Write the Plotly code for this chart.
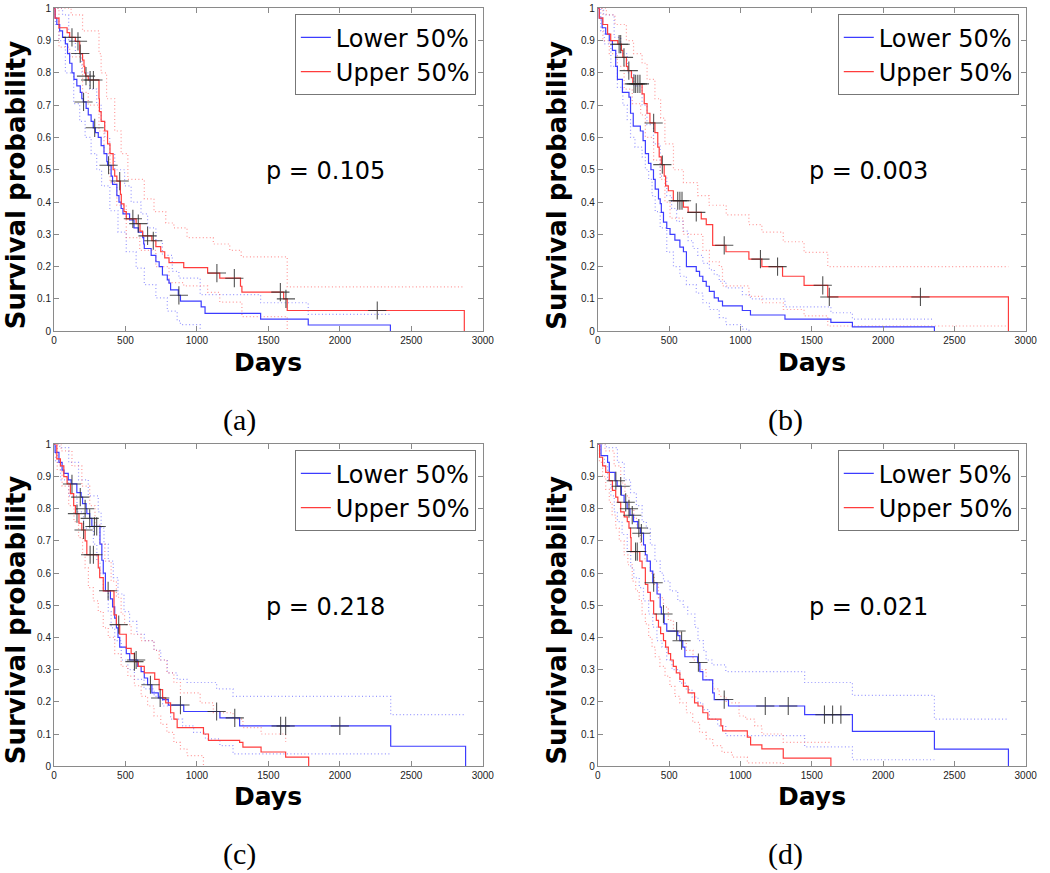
import plotly.graph_objects as go

W, H = 1050, 873

# ---------------- tick labels / texts ----------------
x_tick_vals = [0, 500, 1000, 1500, 2000, 2500, 3000]
x_tick_text = ["0", "500", "1000", "1500", "2000", "2500", "3000"]
y_tick_vals = [0, 0.1, 0.2, 0.3, 0.4, 0.5, 0.6, 0.7, 0.8, 0.9, 1]
y_tick_text = ["0", "0.1", "0.2", "0.3", "0.4", "0.5", "0.6", "0.7", "0.8", "0.9", "1"]
group_names = ["Lower 50%", "Upper 50%"]
panel_tags = ["(a)", "(b)", "(c)", "(d)"]
p_texts = ["p = 0.105", "p = 0.003", "p = 0.218", "p = 0.021"]
x_title = "Days"
y_title = "Survival probability"

# ---------------- panel (a) ----------------
a_low_t = [0, 8, 20, 40, 60, 80, 95, 110, 126, 140, 160, 184, 195, 205, 225, 240, 260, 275, 290, 310,
           330, 350, 370, 375, 400, 410, 440, 455, 470, 483, 529, 560, 590, 621, 628, 632, 680, 713, 736, 759,
           793, 805, 816, 870, 885, 1030, 1057, 1446, 1779, 2354]
a_low_s = [1, 0.97, 0.95, 0.93, 0.91, 0.89, 0.86, 0.83, 0.8, 0.78, 0.76, 0.74, 0.72, 0.71, 0.69, 0.67, 0.65, 0.63, 0.615, 0.6,
           0.575, 0.55, 0.525, 0.514, 0.48, 0.455, 0.42, 0.4, 0.38, 0.363, 0.345, 0.32, 0.307, 0.29, 0.27, 0.256, 0.235, 0.215, 0.2, 0.174,
           0.159, 0.149, 0.128, 0.111, 0.093, 0.075, 0.055, 0.037, 0.019, 0]
a_low_cens_t = [207, 285, 382, 874]
a_low_cens_s = [0.71, 0.63, 0.514, 0.111]
a_low_hi_t = [0, 60, 103, 150, 195, 250, 299, 330, 356, 390, 425, 494, 540, 609, 655, 713, 759, 828, 874, 1023, 1446, 1779, 2354]
a_low_hi_s = [1, 0.98, 0.9, 0.86, 0.8, 0.75, 0.705, 0.65, 0.6, 0.55, 0.5, 0.45, 0.4, 0.363, 0.32, 0.28, 0.235, 0.185, 0.164, 0.113, 0.088, 0.052, 0.052]
a_low_lo_t = [0, 10, 35, 80, 138, 180, 218, 260, 299, 333, 391, 448, 506, 575, 632, 713, 793, 862, 885, 1023]
a_low_lo_s = [1, 0.95, 0.9, 0.8, 0.705, 0.65, 0.6, 0.55, 0.5, 0.45, 0.373, 0.307, 0.246, 0.195, 0.144, 0.103, 0.062, 0.032, 0.02, 0]

a_up_t = [0, 8, 35, 92, 110, 150, 180, 200, 210, 215, 222, 240, 315, 318, 330, 355, 375, 392, 414, 425,
          440, 465, 471, 490, 506, 575, 602, 620, 685, 713, 747, 775, 805, 908, 1075, 1160, 1305, 1315, 1607, 1632, 2871]
a_up_s = [1, 0.97, 0.94, 0.925, 0.91, 0.898, 0.86, 0.84, 0.82, 0.8, 0.79, 0.778, 0.72, 0.68, 0.65, 0.62, 0.58, 0.55, 0.5, 0.48,
          0.465, 0.424, 0.394, 0.37, 0.348, 0.333, 0.31, 0.295, 0.28, 0.262, 0.246, 0.227, 0.212, 0.197, 0.18, 0.164, 0.139, 0.121, 0.1, 0.064, 0]
a_up_cens_t = [126, 168, 184, 224, 253, 276, 460, 552, 590, 655, 695, 1140, 1262, 1584, 1623, 2262]
a_up_cens_s = [0.91, 0.898, 0.86, 0.79, 0.778, 0.778, 0.465, 0.348, 0.333, 0.295, 0.28, 0.18, 0.164, 0.121, 0.1, 0.064]
a_up_hi_t = [0, 120, 200, 315, 330, 368, 425, 470, 517, 632, 700, 782, 839, 931, 1115, 1230, 1310, 1632, 2871]
a_up_hi_s = [1, 0.98, 0.93, 0.86, 0.8, 0.72, 0.62, 0.55, 0.47, 0.41, 0.37, 0.335, 0.32, 0.29, 0.27, 0.25, 0.23, 0.137, 0.137]
a_up_lo_t = [0, 35, 110, 200, 240, 315, 350, 392, 440, 506, 600, 713, 805, 908, 1075, 1160, 1315, 1632]
a_up_lo_s = [1, 0.88, 0.85, 0.74, 0.7, 0.62, 0.55, 0.46, 0.39, 0.29, 0.25, 0.2, 0.15, 0.14, 0.12, 0.09, 0.045, 0]

# ---------------- panel (b) ----------------
b_low_t = [0, 10, 30, 55, 80, 102, 125, 137, 172, 218, 229, 248, 298, 317, 333, 355, 372, 390, 402, 425,
           437, 445, 460, 483, 506, 540, 575, 600, 621, 690, 713, 736, 760, 782, 816, 845, 874, 1013, 1070, 1312,
           1634, 1785, 2360]
b_low_s = [1, 0.97, 0.94, 0.92, 0.9, 0.87, 0.82, 0.78, 0.74, 0.725, 0.675, 0.635, 0.62, 0.59, 0.55, 0.52, 0.5, 0.47, 0.44, 0.41,
           0.395, 0.368, 0.338, 0.318, 0.3, 0.282, 0.26, 0.246, 0.2, 0.185, 0.17, 0.154, 0.139, 0.123, 0.103, 0.093, 0.078, 0.064, 0.05, 0.037,
           0.027, 0.013, 0]
b_low_cens_t = []
b_low_cens_s = []
b_low_hi_t = [0, 40, 114, 160, 206, 252, 310, 344, 390, 437, 483, 517, 552, 598, 633, 667, 700, 736, 782, 816, 851, 898, 1013, 1070, 1312, 1634, 1785, 2360]
b_low_hi_s = [1, 0.98, 0.91, 0.86, 0.8, 0.76, 0.7, 0.64, 0.58, 0.48, 0.42, 0.38, 0.34, 0.31, 0.28, 0.256, 0.235, 0.21, 0.19, 0.175, 0.154, 0.134, 0.113, 0.1, 0.075, 0.057, 0.037, 0.037]
b_low_lo_t = [0, 20, 45, 91, 137, 175, 206, 229, 260, 310, 333, 356, 380, 402, 437, 483, 530, 575, 621, 690, 736, 782, 851, 898, 1013, 1060]
b_low_lo_s = [1, 0.93, 0.89, 0.82, 0.755, 0.7, 0.655, 0.6, 0.57, 0.54, 0.5, 0.47, 0.42, 0.37, 0.32, 0.245, 0.2, 0.17, 0.144, 0.118, 0.088, 0.067, 0.042, 0.02, 0.006, 0]

b_up_t = [0, 10, 35, 68, 90, 140, 165, 175, 200, 210, 235, 245, 310, 325, 345, 365, 400, 420, 430, 445,
          465, 475, 494, 529, 600, 633, 725, 760, 805, 898, 1059, 1150, 1295, 1446, 1612, 2879]
b_up_s = [1, 0.97, 0.95, 0.92, 0.9, 0.889, 0.87, 0.848, 0.82, 0.807, 0.785, 0.766, 0.735, 0.705, 0.675, 0.645, 0.615, 0.57, 0.54, 0.516,
          0.48, 0.45, 0.435, 0.404, 0.384, 0.368, 0.348, 0.33, 0.266, 0.246, 0.223, 0.2, 0.17, 0.142, 0.106, 0]
b_up_cens_t = [149, 160, 183, 217, 253, 265, 280, 295, 391, 452, 560, 575, 590, 690, 886, 1140, 1260, 1577, 1623, 2262]
b_up_cens_s = [0.889, 0.889, 0.848, 0.807, 0.766, 0.766, 0.766, 0.766, 0.645, 0.516, 0.404, 0.404, 0.404, 0.368, 0.266, 0.223, 0.2, 0.142, 0.106, 0.106]
b_up_hi_t = [0, 60, 120, 200, 250, 310, 345, 400, 440, 470, 530, 600, 700, 780, 900, 1059, 1150, 1300, 1446, 1612, 2879]
b_up_hi_s = [1, 0.98, 0.95, 0.9, 0.86, 0.83, 0.78, 0.72, 0.66, 0.58, 0.5, 0.46, 0.42, 0.39, 0.36, 0.33, 0.307, 0.277, 0.244, 0.2, 0.2]
b_up_lo_t = [0, 35, 80, 137, 184, 241, 300, 333, 391, 437, 470, 506, 598, 736, 782, 851, 874, 1059, 1150, 1300, 1446, 1612, 2879]
b_up_lo_s = [1, 0.9, 0.86, 0.82, 0.75, 0.705, 0.67, 0.6, 0.53, 0.47, 0.4, 0.35, 0.3, 0.25, 0.215, 0.2, 0.14, 0.108, 0.088, 0.067, 0.047, 0.016, 0.016]

# ---------------- panel (c) ----------------
c_low_t = [0, 8, 35, 57, 70, 100, 120, 160, 190, 200, 225, 230, 250, 265, 322, 335, 345, 360, 395, 410,
           425, 437, 448, 460, 506, 530, 586, 610, 632, 655, 685, 730, 760, 800, 908, 1161, 1299, 2356, 2880]
c_low_s = [1, 0.975, 0.944, 0.92, 0.91, 0.89, 0.877, 0.85, 0.836, 0.816, 0.8, 0.785, 0.77, 0.745, 0.69, 0.64, 0.6, 0.545, 0.52, 0.495,
           0.46, 0.43, 0.4, 0.37, 0.35, 0.33, 0.31, 0.294, 0.274, 0.253, 0.228, 0.212, 0.207, 0.19, 0.17, 0.15, 0.125, 0.062, 0]
c_low_cens_t = [126, 184, 218, 250, 283, 299, 379, 575, 675, 743, 885, 1138, 1265, 1586, 1621, 2000]
c_low_cens_s = [0.877, 0.836, 0.8, 0.77, 0.745, 0.745, 0.545, 0.33, 0.253, 0.212, 0.19, 0.17, 0.15, 0.125, 0.125, 0.125]
c_low_hi_t = [0, 40, 103, 172, 240, 310, 330, 350, 380, 415, 448, 490, 529, 580, 632, 700, 747, 793, 862, 931, 1138, 1253, 2356, 2880]
c_low_hi_s = [1, 0.99, 0.944, 0.89, 0.84, 0.79, 0.74, 0.69, 0.637, 0.586, 0.535, 0.48, 0.45, 0.41, 0.39, 0.36, 0.33, 0.29, 0.27, 0.26, 0.24, 0.217, 0.16, 0.16]
c_low_lo_t = [0, 11, 46, 103, 161, 207, 276, 300, 322, 345, 380, 400, 425, 471, 517, 563, 630, 701, 760, 816, 900, 977, 1060, 1161, 1253, 2356]
c_low_lo_s = [1, 0.944, 0.89, 0.84, 0.79, 0.74, 0.69, 0.637, 0.6, 0.545, 0.48, 0.43, 0.39, 0.33, 0.3, 0.27, 0.24, 0.217, 0.187, 0.146, 0.125, 0.105, 0.085, 0.064, 0.038, 0.038]

c_up_t = [0, 20, 45, 69, 92, 115, 138, 150, 175, 195, 218, 230, 310, 320, 345, 420, 437, 460, 506, 540,
          563, 590, 632, 705, 736, 760, 782, 816, 839, 862, 1046, 1081, 1299, 1322, 1449, 1621, 1782]
c_up_s = [1, 0.955, 0.933, 0.9, 0.877, 0.847, 0.81, 0.785, 0.755, 0.734, 0.7, 0.657, 0.616, 0.586, 0.545, 0.47, 0.44, 0.41, 0.366, 0.35,
          0.325, 0.31, 0.29, 0.27, 0.238, 0.212, 0.197, 0.166, 0.146, 0.12, 0.1, 0.08, 0.074, 0.059, 0.044, 0.028, 0]
c_up_cens_t = [161, 207, 253, 276, 453, 563]
c_up_cens_s = [0.785, 0.734, 0.657, 0.657, 0.44, 0.325]
c_up_hi_t = [0, 50, 126, 195, 250, 287, 320, 356, 400, 437, 470, 494, 540, 609, 700, 736, 790, 839, 885, 1023, 1115, 1253, 1322, 1449, 1621]
c_up_hi_s = [1, 0.98, 0.933, 0.87, 0.81, 0.75, 0.69, 0.637, 0.575, 0.525, 0.473, 0.44, 0.41, 0.39, 0.36, 0.33, 0.29, 0.26, 0.228, 0.197, 0.166, 0.146, 0.12, 0.1, 0.075]
c_up_lo_t = [0, 23, 57, 103, 140, 172, 200, 218, 241, 275, 310, 345, 380, 425, 470, 517, 563, 610, 655, 700, 747, 790, 839, 885, 931, 1046]
c_up_lo_s = [1, 0.92, 0.87, 0.81, 0.76, 0.71, 0.657, 0.616, 0.555, 0.514, 0.48, 0.43, 0.4, 0.35, 0.31, 0.28, 0.25, 0.217, 0.187, 0.156, 0.13, 0.105, 0.074, 0.054, 0.033, 0]

# ---------------- panel (d) ----------------
d_low_t = [0, 22, 68, 80, 120, 135, 165, 184, 205, 225, 250, 280, 298, 320, 333, 345, 368, 385, 415, 437,
           445, 465, 483, 560, 575, 595, 610, 700, 715, 736, 805, 816, 916, 1450, 1785, 2360, 2879]
d_low_s = [1, 0.965, 0.944, 0.913, 0.887, 0.87, 0.842, 0.82, 0.8, 0.78, 0.76, 0.74, 0.724, 0.688, 0.657, 0.637, 0.606, 0.57, 0.535, 0.494,
           0.473, 0.442, 0.42, 0.406, 0.39, 0.37, 0.34, 0.322, 0.294, 0.268, 0.228, 0.207, 0.187, 0.16, 0.108, 0.053, 0]
d_low_cens_t = [126, 160, 195, 218, 241, 287, 305, 391, 460, 552, 587, 705, 886, 1174, 1335, 1589, 1646, 1704]
d_low_cens_s = [0.887, 0.87, 0.82, 0.8, 0.78, 0.74, 0.724, 0.57, 0.473, 0.42, 0.39, 0.322, 0.207, 0.187, 0.187, 0.16, 0.16, 0.16]
d_low_hi_t = [0, 60, 137, 185, 229, 270, 310, 340, 368, 400, 437, 460, 506, 560, 598, 630, 680, 702, 740, 759, 800, 897, 1450, 1785, 2360, 2879]
d_low_hi_s = [1, 0.99, 0.944, 0.89, 0.85, 0.81, 0.76, 0.74, 0.688, 0.637, 0.6, 0.575, 0.545, 0.514, 0.494, 0.473, 0.432, 0.39, 0.36, 0.33, 0.315, 0.294, 0.26, 0.22, 0.146, 0.146]
d_low_lo_t = [0, 15, 46, 68, 91, 115, 137, 170, 206, 230, 252, 290, 320, 356, 385, 414, 450, 483, 520, 575, 620, 660, 702, 736, 782, 840, 897, 1450, 1785, 2360]
d_low_lo_s = [1, 0.965, 0.933, 0.89, 0.84, 0.79, 0.76, 0.72, 0.667, 0.616, 0.585, 0.555, 0.514, 0.473, 0.432, 0.39, 0.37, 0.33, 0.3, 0.258, 0.238, 0.215, 0.197, 0.176, 0.146, 0.125, 0.095, 0.06, 0.02, 0.02]

d_up_t = [0, 12, 33, 55, 80, 102, 125, 140, 160, 185, 206, 218, 229, 233, 294, 310, 333, 350, 368, 391,
          410, 425, 440, 460, 475, 494, 510, 529, 550, 575, 600, 633, 678, 702, 736, 771, 863, 875, 1048, 1071,
          1150, 1300, 1634]
d_up_s = [1, 0.96, 0.933, 0.913, 0.887, 0.857, 0.836, 0.82, 0.79, 0.775, 0.76, 0.74, 0.71, 0.667, 0.637, 0.616, 0.565, 0.54, 0.514, 0.473,
          0.453, 0.432, 0.412, 0.39, 0.37, 0.35, 0.33, 0.31, 0.29, 0.27, 0.248, 0.228, 0.197, 0.187, 0.166, 0.146, 0.125, 0.11, 0.09, 0.066,
          0.054, 0.025, 0]
d_up_cens_t = [264, 276]
d_up_cens_s = [0.667, 0.667]
d_up_hi_t = [0, 50, 114, 160, 190, 218, 252, 275, 298, 330, 368, 395, 425, 460, 494, 530, 575, 620, 667, 710, 759, 805, 851, 900, 990, 1036, 1100, 1150, 1300, 1634]
d_up_hi_s = [1, 0.98, 0.933, 0.88, 0.84, 0.8, 0.77, 0.74, 0.688, 0.637, 0.6, 0.565, 0.524, 0.494, 0.453, 0.42, 0.39, 0.36, 0.33, 0.3, 0.268, 0.24, 0.217, 0.197, 0.156, 0.146, 0.125, 0.1, 0.074, 0.074]
d_up_lo_t = [0, 11, 33, 55, 80, 100, 125, 150, 184, 210, 241, 265, 290, 310, 333, 356, 380, 402, 435, 471, 505, 540, 575, 621, 665, 713, 760, 805, 870, 943, 1048, 1300]
d_up_lo_s = [1, 0.944, 0.9, 0.86, 0.82, 0.78, 0.74, 0.7, 0.657, 0.626, 0.575, 0.545, 0.514, 0.473, 0.442, 0.4, 0.37, 0.34, 0.31, 0.28, 0.248, 0.217, 0.197, 0.166, 0.136, 0.105, 0.085, 0.064, 0.043, 0.028, 0.01, 0]

panels = [
    dict(low=(a_low_t, a_low_s), low_c=(a_low_cens_t, a_low_cens_s), low_hi=(a_low_hi_t, a_low_hi_s), low_lo=(a_low_lo_t, a_low_lo_s),
         up=(a_up_t, a_up_s), up_c=(a_up_cens_t, a_up_cens_s), up_hi=(a_up_hi_t, a_up_hi_s), up_lo=(a_up_lo_t, a_up_lo_s)),
    dict(low=(b_low_t, b_low_s), low_c=(b_low_cens_t, b_low_cens_s), low_hi=(b_low_hi_t, b_low_hi_s), low_lo=(b_low_lo_t, b_low_lo_s),
         up=(b_up_t, b_up_s), up_c=(b_up_cens_t, b_up_cens_s), up_hi=(b_up_hi_t, b_up_hi_s), up_lo=(b_up_lo_t, b_up_lo_s)),
    dict(low=(c_low_t, c_low_s), low_c=(c_low_cens_t, c_low_cens_s), low_hi=(c_low_hi_t, c_low_hi_s), low_lo=(c_low_lo_t, c_low_lo_s),
         up=(c_up_t, c_up_s), up_c=(c_up_cens_t, c_up_cens_s), up_hi=(c_up_hi_t, c_up_hi_s), up_lo=(c_up_lo_t, c_up_lo_s)),
    dict(low=(d_low_t, d_low_s), low_c=(d_low_cens_t, d_low_cens_s), low_hi=(d_low_hi_t, d_low_hi_s), low_lo=(d_low_lo_t, d_low_lo_s),
         up=(d_up_t, d_up_s), up_c=(d_up_cens_t, d_up_cens_s), up_hi=(d_up_hi_t, d_up_hi_s), up_lo=(d_up_lo_t, d_up_lo_s)),
]

# ---------------- geometry (pixels) ----------------
boxes = [(51.7, 486.7, 3.4, 330.3), (603.5, 1037.5, 3.4, 330.3),
         (51.7, 486.7, 445.0, 770.9), (603.5, 1037.5, 445.0, 770.9)]
days_y = [361.7, 361.7, 801.7, 801.7]
ytitle_pos = [(13.3, 182.5), (562.5, 182.5), (13.3, 623.0), (562.5, 623.0)]
tag_pos = [(240, 420), (794, 420), (240, 860), (794, 860)]

BLUE = "rgb(60,60,255)"
RED = "rgb(255,60,60)"
BLUE_CI = "rgba(110,110,255,0.7)"
RED_CI = "rgba(255,110,110,0.7)"
AX = "#8a8a8a"

fig = go.Figure()
layout = dict(width=W, height=H, autosize=False, margin=dict(l=0, r=0, t=0, b=0),
              paper_bgcolor="white", plot_bgcolor="white", annotations=[])

for i, p in enumerate(panels):
    n = i + 1
    xa = "x" if n == 1 else f"x{n}"
    ya = "y" if n == 1 else f"y{n}"
    lg = "legend" if n == 1 else f"legend{n}"
    L, R, T, B = boxes[i]

    for key, col in (("low_hi", BLUE_CI), ("low_lo", BLUE_CI), ("up_hi", RED_CI), ("up_lo", RED_CI)):
        t, s = p[key]
        fig.add_trace(go.Scatter(x=t, y=s, mode="lines", line=dict(color=col, width=1.2, dash="1px,2.5px", shape="hv"),
                                 xaxis=xa, yaxis=ya, showlegend=False, hoverinfo="skip"))
    for key, col, name in (("low", BLUE, group_names[0]), ("up", RED, group_names[1])):
        t, s = p[key]
        fig.add_trace(go.Scatter(x=t, y=s, mode="lines", line=dict(color=col, width=1.2, shape="hv"),
                                 name=name, xaxis=xa, yaxis=ya, legend=lg, showlegend=True))
    for key in ("low_c", "up_c"):
        t, s = p[key]
        if t:
            fig.add_trace(go.Scatter(x=t, y=s, mode="markers",
                                     marker=dict(symbol="cross-thin", size=13, line=dict(width=1.1, color="rgba(40,40,40,0.8)")),
                                     xaxis=xa, yaxis=ya, showlegend=False))

    axis_common = dict(showline=True, linecolor=AX, linewidth=1, mirror="ticks", ticks="inside", ticklen=5,
                       tickcolor=AX, tickwidth=1, showgrid=False, zeroline=False,
                       tickfont=dict(family="Liberation Sans", size=10, color="#222"))
    layout["xaxis" if n == 1 else f"xaxis{n}"] = dict(domain=[L / W, R / W], range=[0, 3000], anchor=ya,
                                                       tickvals=x_tick_vals, ticktext=x_tick_text, **axis_common)
    layout["yaxis" if n == 1 else f"yaxis{n}"] = dict(domain=[1 - B / H, 1 - T / H], range=[0, 1], anchor=xa,
                                                       tickvals=y_tick_vals, ticktext=y_tick_text, **axis_common)
    layout[lg] = dict(x=(R - 7) / W, y=1 - (T + 6) / H, xanchor="right", yanchor="top",
                      bgcolor="white", bordercolor="#777", borderwidth=1,
                      font=dict(family="DejaVu Sans", size=24, color="black"),
                      itemwidth=30, tracegroupgap=0)

    layout["annotations"] += [
        dict(text=p_texts[i], x=1900, y=0.495, xref=xa, yref=ya, showarrow=False,
             font=dict(family="DejaVu Sans", size=24, color="black")),
        dict(text=x_title, x=(L + R) / 2 / W, y=1 - days_y[i] / H, xref="paper", yref="paper", showarrow=False,
             xanchor="center", yanchor="middle",
             font=dict(family="DejaVu Sans", size=25, color="black", weight="bold")),
        dict(text=y_title, x=ytitle_pos[i][0] / W, y=1 - ytitle_pos[i][1] / H, xref="paper", yref="paper",
             showarrow=False, textangle=-90, xanchor="center", yanchor="middle",
             font=dict(family="DejaVu Sans", size=26, color="black", weight="bold")),
        dict(text=panel_tags[i], x=tag_pos[i][0] / W, y=1 - tag_pos[i][1] / H, xref="paper", yref="paper",
             showarrow=False, xanchor="center", yanchor="middle",
             font=dict(family="Liberation Serif", size=30, color="black")),
    ]

fig.update_layout(**layout)
fig.write_html("out.html", config={"displayModeBar": False},
               post_script="document.body.style.margin='0';document.body.style.overflow='hidden';")
